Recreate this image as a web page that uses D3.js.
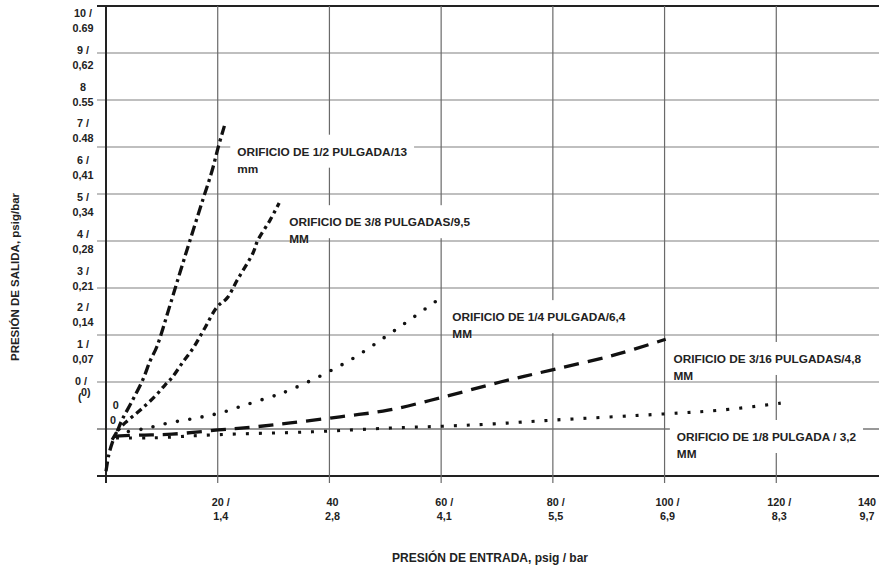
<!DOCTYPE html>
<html>
<head>
<meta charset="utf-8">
<script src="https://cdn.jsdelivr.net/npm/d3@7"></script>
<style>
    body { margin: 0; background: #fff; }
    svg { display: block; font-family: "Liberation Sans", Arial, sans-serif; font-weight: bold; }
</style>
</head>
<body>
<svg id="chart" width="879" height="571"></svg>
<script>
// x: presion de entrada (psig); y: posicion en la cuadricula (0..10)
const xTicks = [20, 40, 60, 80, 100, 120, 140];
const xTickLabels = [["20 /", "1,4"], ["40", "2,8"], ["60 /", "4,1"], ["80 /", "5,5"], ["100 /", "6,9"], ["120 /", "8,3"], ["140", "9,7"]];
const yGridValues = [0, 1, 2, 3, 4, 5, 6, 7, 8, 9, 10];
const yTicks = [10, 9, 8, 7, 6, 5, 4, 3, 2, 1];
const yTickLabels = [["10 /", "0.69"], ["9 /", "0,62"], ["8", "0.55"], ["7 /", "0.48"], ["6 /", "0,41"], ["5 /", "0,34"], ["4 /", "0,28"], ["3 /", "0,21"], ["2 /", "0,14"], ["1 /", "0,07"]];

const orifice12 = [[0, 0.1], [0.5, 0.45], [1.1, 0.7], [2, 0.95], [2.9, 1.2], [4.7, 1.6], [6.6, 2.05], [7.9, 2.45], [9.1, 2.75], [11.5, 3.65], [13.3, 4.35], [15, 5], [17.4, 5.9], [19, 6.5], [20.1, 7], [21.2, 7.45]];
const orifice38 = [[1.1, 0.77], [2.2, 0.98], [3.4, 1.13], [6.1, 1.4], [8.8, 1.7], [10.6, 1.94], [11.8, 2.09], [13.8, 2.43], [15.6, 2.72], [17.7, 3.15], [19.9, 3.6], [21.7, 3.79], [23.5, 4.17], [26.3, 4.74], [27.2, 5.02], [29.4, 5.45], [31, 5.81]];
const orifice14 = [[1.8, 0.91], [6.6, 1.0], [11.3, 1.13], [16, 1.23], [20.4, 1.34], [24.9, 1.51], [29.4, 1.68], [31.7, 1.77], [38.4, 2.13], [44.6, 2.53], [50, 2.96], [53.9, 3.28], [57.9, 3.62], [59.7, 3.77]];
const orifice316 = [[1.6, 0.85], [6.1, 0.87], [11.8, 0.89], [20.1, 0.98], [26.2, 1.04], [33, 1.13], [41.9, 1.26], [50.5, 1.4], [60.4, 1.68], [70.6, 2.0], [79.9, 2.26], [90.9, 2.57], [100.2, 2.91]];
const orifice18 = [[1.8, 0.81], [7.9, 0.81], [20.1, 0.88], [36.9, 0.94], [50.9, 1.02], [60.4, 1.06], [69.5, 1.11], [80.1, 1.19], [99.8, 1.32], [110, 1.4], [120.8, 1.55]];

const seriesData = [orifice12, orifice38, orifice14, orifice316, orifice18];
const seriesLabels = [
    ["ORIFICIO DE 1/2 PULGADA/13", "mm"],
    ["ORIFICIO DE 3/8 PULGADAS/9,5", "MM"],
    ["ORIFICIO DE 1/4 PULGADA/6,4", "MM"],
    ["ORIFICIO DE 3/16 PULGADAS/4,8", "MM"],
    ["ORIFICIO DE 1/8 PULGADA / 3,2", "MM"]
];

// estilo y posicion de cada serie (en unidades de datos)
const seriesStyle = [
    { dash: "10,4,3,4", cap: "butt", width: 3.3, labelX: 23.5, labelY: 6.9 },
    { dash: "7,4,3,4", cap: "butt", width: 3.3, labelX: 32.8, labelY: 5.4 },
    { dash: "0,12.5", cap: "round", width: 3.6, labelX: 62, labelY: 3.38 },
    { dash: "15,9", cap: "butt", width: 3.3, labelX: 101.6, labelY: 2.49 },
    { dash: "3,10", cap: "butt", width: 3.1, labelX: 102.2, labelY: 0.83 }
];

const svg = d3.select("#chart");
const width = 879;

const x = d3.scaleLinear().domain([0, 140]).range([106, 888]);
const y = d3.scaleLinear().domain([0, 10]).range([476, 6]);
const yLabel = d3.scaleLinear().domain([0, 10]).range([381, 13]);

const gridLayer = svg.append("g");

// lineas horizontales
gridLayer.selectAll("line.h")
    .data(yGridValues)
    .join("line")
    .attr("class", "h")
    .attr("x1", 97)
    .attr("x2", width)
    .attr("y1", d => y(d))
    .attr("y2", d => y(d))
    .attr("stroke", d => (d === 0 || d === 10) ? "#222" : (d === 1 ? "#333" : "#808080"))
    .attr("stroke-width", d => (d === 0 || d === 10) ? 2 : 1.2);

// lineas verticales
gridLayer.selectAll("line.v")
    .data(xTicks.filter(d => x(d) < width))
    .join("line")
    .attr("class", "v")
    .attr("x1", d => x(d))
    .attr("x2", d => x(d))
    .attr("y1", y(10))
    .attr("y2", y(0) + 7)
    .attr("stroke", "#6a6a6a")
    .attr("stroke-width", 1.2);

gridLayer.append("line")
    .attr("x1", x(0))
    .attr("x2", x(0))
    .attr("y1", y(10) - 1)
    .attr("y2", y(0) + 7)
    .attr("stroke", "#222")
    .attr("stroke-width", 2);

// cajas blancas de las etiquetas (tapan la cuadricula)
const labelLayer = svg.append("g");
const labelGroups = labelLayer.selectAll("g")
    .data(seriesLabels)
    .join("g")
    .attr("transform", (d, i) => "translate(" + x(seriesStyle[i].labelX) + "," + y(seriesStyle[i].labelY) + ")");

labelGroups.append("rect").attr("fill", "#fff");

const labelTexts = labelGroups.append("text")
    .attr("font-size", 11.8)
    .attr("fill", "#222");

labelTexts.append("tspan")
    .attr("x", 0)
    .attr("y", 4)
    .text(d => d[0]);

labelTexts.append("tspan")
    .attr("x", 0)
    .attr("y", 21)
    .text(d => d[1]);

labelGroups.each(function() {
    const g = d3.select(this);
    const w = g.select("text tspan").node().getComputedTextLength();
    g.select("rect")
        .attr("x", -7)
        .attr("y", -17)
        .attr("width", w + 14)
        .attr("height", 33);
});

// curvas
const line = d3.line()
    .x(d => x(d[0]))
    .y(d => y(d[1]))
    .curve(d3.curveCatmullRom.alpha(0.5));

svg.append("g")
    .selectAll("path")
    .data(seriesData)
    .join("path")
    .attr("d", line)
    .attr("fill", "none")
    .attr("stroke", "#111")
    .attr("stroke-width", (d, i) => seriesStyle[i].width)
    .attr("stroke-dasharray", (d, i) => seriesStyle[i].dash)
    .attr("stroke-linecap", (d, i) => seriesStyle[i].cap);

// etiquetas del eje x
const xLabels = svg.append("g")
    .selectAll("text")
    .data(xTicks)
    .join("text")
    .attr("font-size", 10.8)
    .attr("fill", "#222")
    .attr("text-anchor", "middle");

xLabels.each(function(d, i) {
    const cx = Math.min(x(d) + 3, 867);
    const t = d3.select(this);
    t.append("tspan").attr("x", cx).attr("y", 506).text(xTickLabels[i][0]);
    t.append("tspan").attr("x", cx).attr("y", 520).text(xTickLabels[i][1]);
});

// etiquetas del eje y
const yLabels = svg.append("g")
    .selectAll("text")
    .data(yTicks)
    .join("text")
    .attr("font-size", 10.8)
    .attr("fill", "#222")
    .attr("text-anchor", "middle");

yLabels.each(function(d, i) {
    const t = d3.select(this);
    t.append("tspan").attr("x", 83).attr("y", yLabel(d) + 4).text(yTickLabels[i][0]);
    t.append("tspan").attr("x", 83).attr("y", yLabel(d) + 19).text(yTickLabels[i][1]);
});

const zeroLabel = svg.append("g")
    .attr("font-size", 10.8)
    .attr("fill", "#222");

zeroLabel.append("text")
    .attr("x", 81)
    .attr("y", yLabel(0) + 4)
    .attr("text-anchor", "middle")
    .text("0 /");

zeroLabel.append("text")
    .attr("x", 78)
    .attr("y", yLabel(0) + 20)
    .text("(");

zeroLabel.append("text")
    .attr("x", 81)
    .attr("y", yLabel(0) + 15)
    .text("0)");

zeroLabel.append("text")
    .attr("x", x(1.2))
    .attr("y", y(1.51) + 4)
    .text("0");

zeroLabel.append("text")
    .attr("x", x(0.7))
    .attr("y", y(1.19) + 4)
    .text("0");

// titulos de los ejes
svg.append("text")
    .attr("x", 490)
    .attr("y", 562)
    .attr("text-anchor", "middle")
    .attr("font-size", 12)
    .attr("fill", "#222")
    .text("PRESIÓN DE ENTRADA, psig / bar");

svg.append("text")
    .attr("transform", "translate(19, 277) rotate(-90)")
    .attr("text-anchor", "middle")
    .attr("font-size", 11.5)
    .attr("fill", "#222")
    .text("PRESIÓN DE SALIDA, psig/bar");
</script>
</body>
</html>
